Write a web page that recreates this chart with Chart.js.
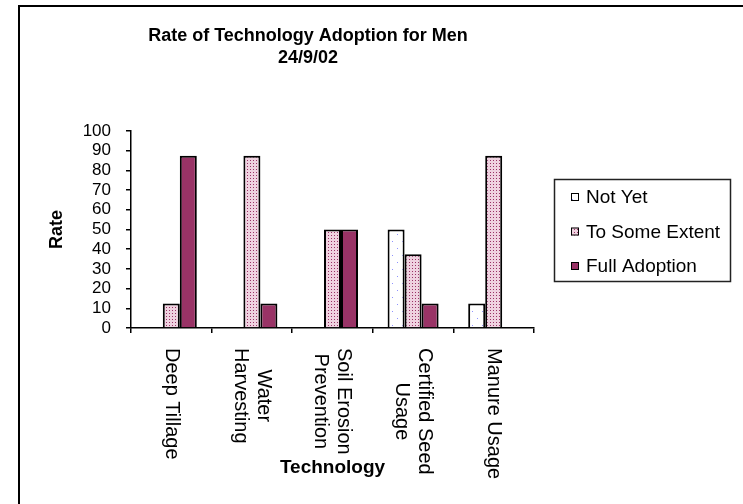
<!DOCTYPE html>
<html><head><meta charset="utf-8">
<script src="https://cdn.jsdelivr.net/npm/chart.js@4/dist/chart.umd.min.js"></script>
<style>html,body{margin:0;padding:0;background:#fff;overflow:hidden}#wrap{width:743px;height:504px;position:relative}</style>
</head><body><div id="wrap"><canvas id="c" width="743" height="504"></canvas></div>
<script>
const categories = [["Deep Tillage"], ["Water", "Harvesting"], ["Soil Erosion", "Prevention"], ["Certified Seed", "Usage"], ["Manure Usage"]];
const seriesNames = ["Not Yet", "To Some Extent", "Full Adoption"];
const notYet = [0, 0, 0, 50, 12.5];
const toSomeExtent = [12.5, 87.5, 50, 37.5, 87.5];
const fullAdoption = [87.5, 12.5, 50, 12.5, 0];
const yMin = 0, yMax = 100, yStep = 10;
const titleLines = ["Rate of Technology Adoption for Men", "24/9/02"];
const xTitle = "Technology";
const yTitle = "Rate";

const FAM = '"Liberation Sans", Arial, Helvetica, sans-serif';
Chart.defaults.font.family = FAM;
Chart.defaults.color = '#000';

const canvas = document.getElementById('c');
const mainCtx = canvas.getContext('2d');
function makePattern(w, h, bg, dots, color) {
  const t = document.createElement('canvas');
  t.width = w; t.height = h;
  const g = t.getContext('2d');
  g.fillStyle = bg; g.fillRect(0, 0, w, h);
  g.fillStyle = color;
  dots.forEach(([x, y]) => g.fillRect(x, y, 1, 1));
  return mainCtx.createPattern(t, 'repeat');
}
const patNotYet = makePattern(10, 14, '#ffffff', [[2, 3], [7, 10]], '#8f92ff');
const patSome = makePattern(3, 3, '#efd2e0', [[1, 1]], '#993366');
const colFull = '#993366';

const frameAndText = {
  id: 'frameAndText',
  afterDraw(chart) {
    const ctx = chart.ctx;
    ctx.save();
    ctx.strokeStyle = '#000'; ctx.lineWidth = 2;
    ctx.strokeRect(19, 6, 900, 700);
    ctx.fillStyle = '#000';
    ctx.textAlign = 'center'; ctx.textBaseline = 'middle';
    ctx.font = 'bold 18px ' + FAM;
    ctx.fillText(titleLines[0], 308, 36);
    ctx.fillText(titleLines[1], 308, 58);
    const xs = chart.scales.x;
    ctx.font = '20px ' + FAM;
    chart.data.labels.forEach((lab, i) => {
      const lines = Array.isArray(lab) ? lab : [lab];
      const cx = xs.getPixelForValue(i);
      const W = Math.max(...lines.map(l => ctx.measureText(l).width));
      const n = lines.length, lh = 23;
      lines.forEach((l, j) => {
        const sx = cx + ((n - 1) / 2 - j) * lh;
        ctx.save();
        ctx.translate(sx, xs.top + 20 + W / 2);
        ctx.rotate(Math.PI / 2);
        ctx.textAlign = 'center'; ctx.textBaseline = 'middle';
        ctx.fillText(l, 0, 0);
        ctx.restore();
      });
    });
    ctx.strokeStyle = '#222'; ctx.lineWidth = 1.5;
    ctx.strokeRect(554.5, 179.5, 176, 102);
    const ys = [197, 231.5, 266];
    ctx.font = '19px ' + FAM;
    ctx.textAlign = 'left'; ctx.textBaseline = 'middle';
    chart.data.datasets.forEach((ds, i) => {
      ctx.fillStyle = ds.backgroundColor;
      ctx.fillRect(571, ys[i] - 4, 8, 8);
      ctx.strokeStyle = '#000'; ctx.lineWidth = 1;
      ctx.strokeRect(571.5, ys[i] - 3.5, 7, 7);
      ctx.fillStyle = '#000';
      ctx.fillText(ds.label, 586, ys[i] + 1);
    });
    ctx.restore();
  }
};

new Chart(canvas, {
  type: 'bar',
  data: {
    labels: categories,
    datasets: [
      { label: seriesNames[0], data: notYet, backgroundColor: patNotYet },
      { label: seriesNames[1], data: toSomeExtent, backgroundColor: patSome },
      { label: seriesNames[2], data: fullAdoption, backgroundColor: colFull }
    ]
  },
  options: {
    responsive: false,
    animation: false,
    layout: { padding: { left: 20, top: 131, right: 209, bottom: 0 } },
    datasets: {
      bar: { categoryPercentage: 0.633, barPercentage: 1, borderColor: '#000', borderWidth: 2 }
    },
    plugins: { legend: { display: false }, title: { display: false }, tooltip: { enabled: false } },
    scales: {
      x: {
        ticks: { display: false },
        grid: { drawOnChartArea: false, drawTicks: true, tickLength: 5, color: '#000', lineWidth: 1.5, offset: true },
        border: { color: '#000', width: 1.5 },
        title: { display: true, text: xTitle, font: { size: 19, weight: 'bold' }, padding: { top: 0, bottom: 24.6 } },
        afterFit(s) { s.height = 176; }
      },
      y: {
        min: yMin, max: yMax,
        ticks: { stepSize: yStep, autoSkip: false, font: { size: 17 }, padding: 15, color: '#000' },
        grid: { drawOnChartArea: false, drawTicks: true, tickLength: 5, color: '#000', lineWidth: 1.5 },
        border: { color: '#000', width: 1.5 },
        title: { display: true, text: yTitle, font: { size: 18, weight: 'bold' }, padding: { top: 26.2, bottom: 0 } },
        afterFit(s) { s.width = 111; }
      }
    }
  },
  plugins: [frameAndText]
});
</script>
</body></html>
